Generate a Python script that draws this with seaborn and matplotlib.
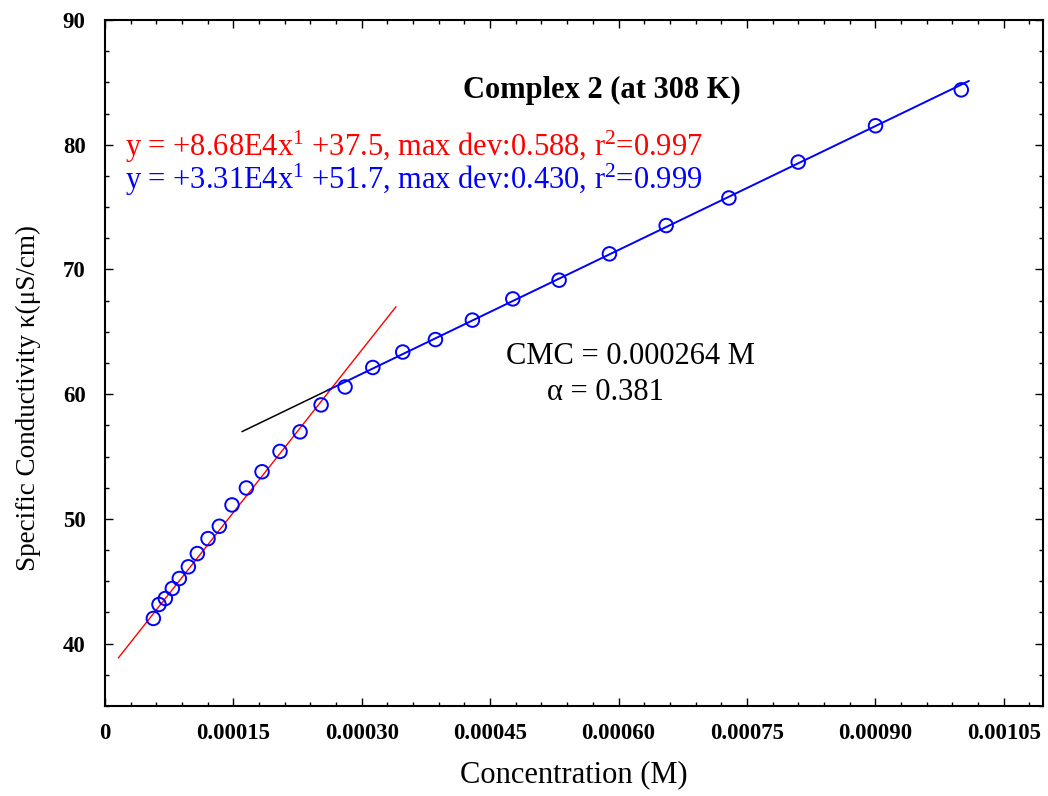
import numpy as np
import pandas as pd
import matplotlib
matplotlib.use("Agg")
import matplotlib.pyplot as plt
import seaborn as sns
from matplotlib.ticker import MultipleLocator, FuncFormatter

# ---- data ----
conc = [5.65e-5, 6.31e-5, 7.05e-5, 7.87e-5, 8.68e-5, 9.74e-5, 1.079e-4, 1.204e-4,
        1.336e-4, 1.484e-4, 1.652e-4, 1.835e-4, 2.045e-4, 2.279e-4, 2.525e-4,
        2.805e-4, 3.129e-4, 3.479e-4, 3.861e-4, 4.293e-4, 4.765e-4, 5.306e-4,
        5.894e-4, 6.557e-4, 7.290e-4, 8.100e-4, 9.003e-4, 1.0005e-3]
kappa = [42.02, 43.14, 43.62, 44.42, 45.22, 46.16, 47.22, 48.42, 49.41, 51.12,
         52.48, 53.78, 55.41, 56.98, 59.14, 60.58, 62.14, 63.38, 64.38, 65.94,
         67.64, 69.14, 71.25, 73.52, 75.73, 78.61, 81.52, 84.40]

# fit lines (slope, intercept from the annotations) and their x extents
red_fit = (8.68e4, 37.5)
blue_fit = (3.31e4, 51.7)
red_x = [1.55e-5, 3.40e-4]
black_x = [1.60e-4, 2.64e-4]
blue_x = [2.60e-4, 1.0095e-3]

title = "Complex 2 (at 308 K)"
red_label = "y = +8.68E4x$^{1}$ +37.5, max dev:0.588, r$^{2}$=0.997"
blue_label = "y = +3.31E4x$^{1}$ +51.7, max dev:0.430, r$^{2}$=0.999"
cmc_label = "CMC = 0.000264 M"
alpha_label = "\u03b1 = 0.381"
xlabel = "Concentration (M)"
ylabel = "Specific Conductivity \u03ba(\u03bcS/cm)"

# ---- style ----
sns.set_theme(style="ticks")
plt.rcParams['font.family'] = ['Liberation Serif', 'DejaVu Serif']
plt.rcParams['mathtext.fontset'] = 'custom'
plt.rcParams['mathtext.rm'] = 'Liberation Serif'
plt.rcParams['mathtext.it'] = 'Liberation Serif:italic'
plt.rcParams['mathtext.bf'] = 'Liberation Serif:bold'
plt.rcParams['text.color'] = 'black'
plt.rcParams['axes.labelcolor'] = 'black'
plt.rcParams['xtick.color'] = 'black'
plt.rcParams['ytick.color'] = 'black'

W, H = 1048, 796
fig = plt.figure(figsize=(W / 100, H / 100), dpi=100)
L, R, T, B = 105, 1043, 20, 706
ax = fig.add_axes([L / W, 1 - B / H, (R - L) / W, (B - T) / H])

def line_df(x, fit):
    x = np.array(x)
    return pd.DataFrame({"x": x, "y": fit[0] * x + fit[1]})

rd = line_df(red_x, red_fit)
bk = line_df(black_x, blue_fit)
bl = line_df(blue_x, blue_fit)
sns.lineplot(data=rd, x="x", y="y", color="red", lw=1.0, ax=ax)
sns.lineplot(data=bk, x="x", y="y", color="black", lw=1.1, ax=ax)
sns.lineplot(data=bl, x="x", y="y", color="blue", lw=1.4, ax=ax)

pts = pd.DataFrame({"conc": conc, "kappa": kappa})
sns.scatterplot(data=pts, x="conc", y="kappa", marker="o", s=95,
                facecolor="none", edgecolor="blue", linewidth=1.4, ax=ax, zorder=5)

ax.set_xlim(0, 0.001096)
ax.set_ylim(35, 90)
ax.xaxis.set_major_locator(MultipleLocator(0.00015))
ax.xaxis.set_minor_locator(MultipleLocator(0.00003))
ax.yaxis.set_major_locator(MultipleLocator(10))
ax.yaxis.set_minor_locator(MultipleLocator(2.5))
ax.xaxis.set_major_formatter(FuncFormatter(lambda v, p: "0" if abs(v) < 1e-12 else f"{v:.5f}"))
ax.yaxis.set_major_formatter(FuncFormatter(lambda v, p: f"{v:.0f}"))
ax.tick_params(which="both", direction="in", top=True, right=True, width=1.0, color="black")
ax.tick_params(which="major", length=6, labelsize=16.5)
ax.tick_params(axis="x", which="major", pad=12)
ax.tick_params(axis="y", which="major", pad=14)
ax.tick_params(which="minor", length=3)
for lab in ax.get_xticklabels() + ax.get_yticklabels():
    lab.set_fontweight("bold")
for sp in ax.spines.values():
    sp.set_linewidth(1.5)
    sp.set_color("black")
ax.set_xlabel("")
ax.set_ylabel("")

fs = 22
fig.text(602 / W, 1 - 90 / H, title, ha="center", va="center", fontsize=fs, fontweight="bold")
fig.text(125 / W, 1 - 147 / H, red_label, ha="left", va="center", fontsize=fs, color="red")
fig.text(125 / W, 1 - 180 / H, blue_label, ha="left", va="center", fontsize=fs, color="blue")
fig.text(630 / W, 1 - 357 / H, cmc_label, ha="center", va="center", fontsize=fs)
fig.text(605 / W, 1 - 393 / H, alpha_label, ha="center", va="center", fontsize=fs)
fig.text(574 / W, 1 - 775 / H, xlabel, ha="center", va="center", fontsize=fs)
fig.text(28 / W, 1 - 398 / H, ylabel, ha="center", va="center", fontsize=19.5, rotation=90)

fig.savefig("out.png", dpi=100, facecolor="white")
